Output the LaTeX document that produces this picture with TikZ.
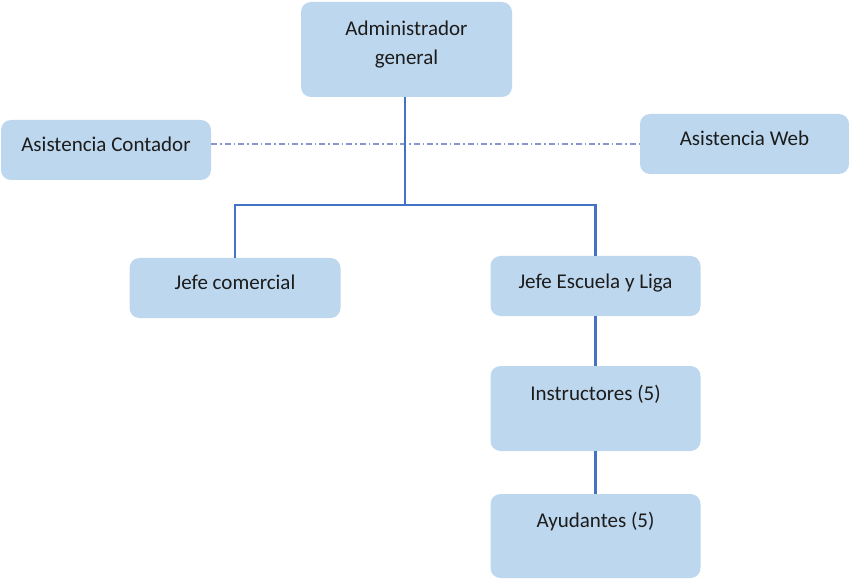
\documentclass[tikz,border=0pt]{standalone}
\usepackage{fontspec}
\setmainfont{Carlito}
\usepackage{xcolor}
\definecolor{BoxFill}{HTML}{BDD7EE}
\definecolor{LineBlue}{HTML}{4472C4}
\definecolor{DotBlue}{HTML}{8797CF}
\definecolor{TextInk}{HTML}{1C1C1C}

\begin{document}
\begin{tikzpicture}[x=1pt,y=-1pt,
  every node/.style={text=TextInk,font=\fontsize{21pt}{29pt}\selectfont},
  box/.style={fill=BoxFill,rounded corners=10pt,minimum width=210pt,minimum height=60pt,inner sep=0pt},
  oneline/.style={text height=14pt,text depth=10pt},
  tall/.style={text height=14pt,text depth=31pt}]
\useasboundingbox (0,0) rectangle (849,580);
\node[box,minimum width=211pt,minimum height=95pt,align=center,text depth=14pt] (adm) at (406.5,49.5) {Administrador\\general};
\node[box,oneline] (cont) at (106,150) {Asistencia Contador};
\node[box,oneline,minimum width=209pt] (web) at (744.5,144) {Asistencia Web};
\node[box,oneline,minimum width=211pt] (com) at (235,288) {Jefe comercial};
\node[box,oneline] (esc) at (595.5,286) {Jefe Escuela y Liga};
\node[box,tall,minimum height=85pt] (ins) at (595.5,408.5) {Instructores (5)};
\node[box,tall,minimum height=84pt] (ayu) at (595.5,536) {Ayudantes (5)};
\coordinate (split) at (405,205);
% lines between the boxes
\draw[DotBlue,line width=1.1pt,dash pattern=on 6pt off 3pt on 1.5pt off 3pt] (cont.east|-web.west) -- (web.west);
\draw[LineBlue,line width=2.2pt] (adm.south-|split) -- (split);
\draw[LineBlue,line width=2.2pt] (com.north) |- (split) -| (esc.north);
\draw[LineBlue,line width=2.2pt] (esc) -- (ins);
\draw[LineBlue,line width=2.2pt] (ins) -- (ayu);
\end{tikzpicture}
\end{document}
